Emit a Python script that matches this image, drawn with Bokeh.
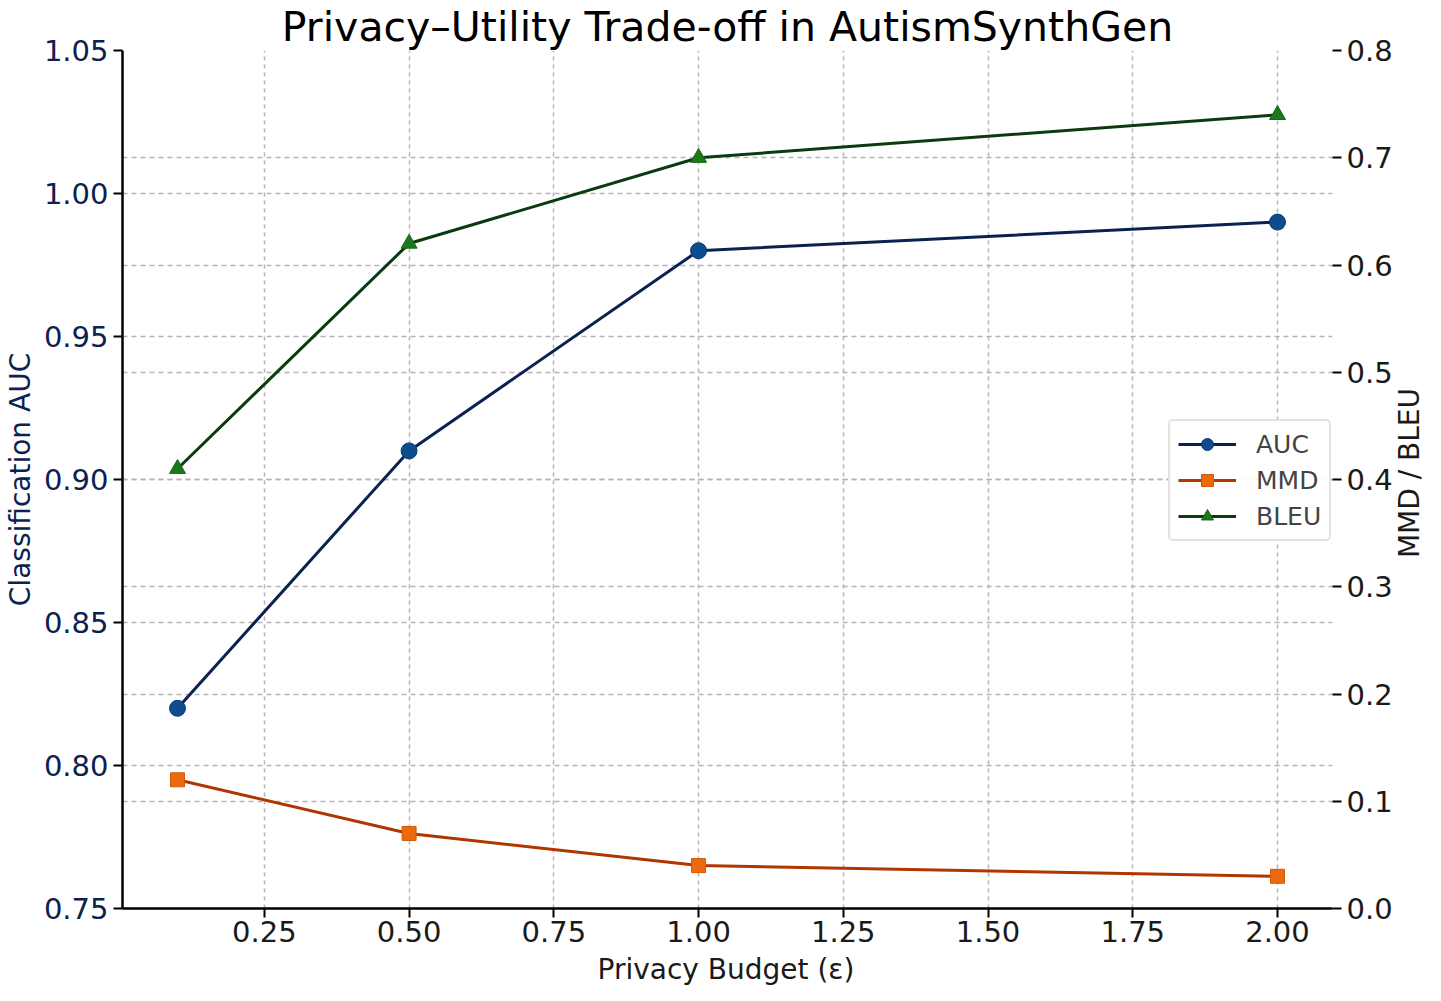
from bokeh.plotting import figure
from bokeh.layouts import row, column
from bokeh.models import (Range1d, LinearAxis, FixedTicker, NumeralTickFormatter, Grid,
                          Legend, LegendItem, Div)
from bokeh.embed import file_html
from bokeh.resources import INLINE

# ---- data ----
epsilon = [0.1, 0.5, 1.0, 2.0]
auc = [0.82, 0.91, 0.98, 0.99]
mmd = [0.12, 0.07, 0.04, 0.03]
bleu = [0.41, 0.62, 0.70, 0.74]

x_ticks = [0.25, 0.5, 0.75, 1.0, 1.25, 1.5, 1.75, 2.0]
left_ticks = [0.75, 0.80, 0.85, 0.90, 0.95, 1.00, 1.05]
right_ticks = [0.0, 0.1, 0.2, 0.3, 0.4, 0.5, 0.6, 0.7, 0.8]

title_text = "Privacy\u2013Utility Trade-off in AutismSynthGen"
x_title = "Privacy Budget (\u03b5)"
left_title = "Classification AUC"
right_title = "MMD / BLEU"

FONT = "DejaVu Sans"
NAVY = "#0b2150"
GRID = "#b4b4b4"
TXT = "#1a1a1a"

PW, PH = 1395, 958          # figure size
RDW = 30                    # right title strip width
XDH = 24                    # bottom title strip height
FR_L, FR_R, FR_T, FR_B = 117, 1335, 40, 908   # frame edges inside the figure

p = figure(width=PW, height=PH, output_backend="svg", toolbar_location=None,
           x_range=Range1d(0.005, 2.095), y_range=Range1d(0.75, 1.05),
           min_border_left=FR_L, min_border_right=PW - FR_R, min_border_top=FR_T,
           min_border_bottom=PH - FR_B)
p.outline_line_color = None
p.background_fill_color = "white"

p.title.text = title_text
p.title.align = "center"
p.title.text_font = FONT
p.title.text_font_size = "41px"
p.title.text_font_style = "normal"
p.title.text_color = "black"
p.title.standoff = 0
p.title.offset = 0

p.extra_y_ranges = {"right": Range1d(0.0, 0.8)}

xa = p.xaxis[0]
xa.ticker = FixedTicker(ticks=x_ticks)
xa.formatter = NumeralTickFormatter(format="0.00")

ya = p.yaxis[0]
ya.ticker = FixedTicker(ticks=left_ticks)
ya.formatter = NumeralTickFormatter(format="0.00")
ya.axis_label = left_title
ya.axis_label_text_color = NAVY
ya.major_label_text_color = NAVY

ra = LinearAxis(y_range_name="right", ticker=FixedTicker(ticks=right_ticks),
                formatter=NumeralTickFormatter(format="0.0"))
p.add_layout(ra, "right")

for ax in [xa, ya, ra]:
    ax.major_label_text_font = FONT
    ax.major_label_text_font_size = "29px"
    ax.axis_label_text_font = FONT
    ax.axis_label_text_font_size = "28px"
    ax.axis_label_text_font_style = "normal"
    ax.minor_tick_line_color = None
    ax.major_tick_in = 0
    ax.major_tick_out = 9
    ax.major_tick_line_width = 2
    ax.axis_line_width = 2.5
    ax.major_label_standoff = 5
    ax.axis_label_standoff = 4
ra.axis_line_color = None
xa.major_label_standoff = 3
xa.major_label_text_color = TXT
ra.major_label_text_color = TXT

p.xgrid.grid_line_color = GRID
p.xgrid.grid_line_dash = "4 4"
p.xgrid.grid_line_width = 1.5
p.ygrid.grid_line_color = GRID
p.ygrid.grid_line_dash = "5 4"
p.ygrid.grid_line_width = 1.5
rgrid = Grid(dimension=1, axis=ra, y_range_name="right", grid_line_color=GRID,
             grid_line_dash="5 4", grid_line_width=1.5)
p.add_layout(rgrid)

l1 = p.line(epsilon, auc, line_color=NAVY, line_width=3)
m1 = p.scatter(epsilon, auc, marker="circle", size=16, fill_color="#0f4c8f", line_color="#0b3a75")
l2 = p.line(epsilon, mmd, line_color="#b03600", line_width=3, y_range_name="right")
m2 = p.scatter(epsilon, mmd, marker="square", size=14, fill_color="#ec6a0e", line_color="#d05a08",
               y_range_name="right")
l3 = p.line(epsilon, bleu, line_color="#0c3a10", line_width=3, y_range_name="right")
m3 = p.scatter(epsilon, bleu, marker="triangle", size=16, fill_color="#1a7a1a", line_color="#156515",
               y_range_name="right")

legend = Legend(items=[LegendItem(label="AUC", renderers=[l1, m1]),
                       LegendItem(label="MMD", renderers=[l2, m2]),
                       LegendItem(label="BLEU", renderers=[l3, m3])],
                location=(1046, 367))
legend.label_text_font = FONT
legend.label_text_font_size = "25px"
legend.glyph_width = 58
legend.glyph_height = 30
legend.label_standoff = 20
legend.spacing = 6
legend.padding = 8
legend.margin = 0
legend.border_line_color = "#c8c8c8"
legend.border_line_width = 2
legend.border_radius = 5
legend.background_fill_alpha = 0.9
p.add_layout(legend)

# right axis title (rotated, reading bottom-to-top)
rdiv = Div(width=RDW, height=PH, margin=0, text=(
    '<div style="width:%dpx;height:%dpx;display:flex;align-items:center;'
    'justify-content:center;margin-top:-6px;">'
    '<span style="display:inline-block;white-space:nowrap;transform:rotate(-90deg);'
    'font-family:\'DejaVu Sans\';font-size:28px;color:%s;">%s</span></div>'
    % (RDW, PH, TXT, right_title)))

# x axis title, centred under the frame
frame_mid = (FR_L + FR_R) / 2
lead = int(2 * frame_mid - (PW + RDW))
xdiv = Div(width=PW + RDW, height=XDH, margin=0, text=(
    '<div style="margin-left:%dpx;width:%dpx;text-align:center;white-space:nowrap;'
    'font-family:\'DejaVu Sans\';font-size:28px;line-height:%dpx;color:%s;">%s</div>'
    % (lead, PW + RDW - lead, XDH, TXT, x_title)))

layout = column(row(p, rdiv, spacing=0), xdiv, spacing=0)

open("out.html", "w").write(file_html(layout, INLINE))
